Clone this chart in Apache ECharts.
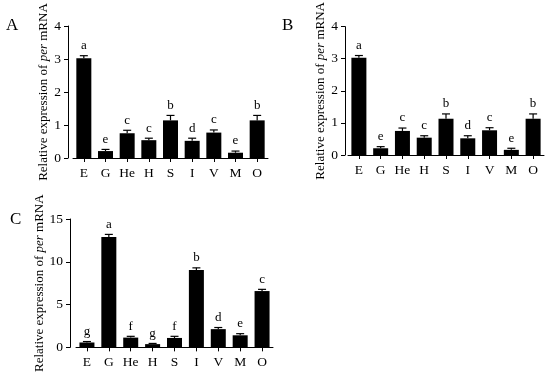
<!DOCTYPE html>
<html>
<head>
<meta charset="utf-8">
<script src="https://cdn.jsdelivr.net/npm/echarts@6/dist/echarts.min.js"></script>
<style>html,body{margin:0;padding:0;background:#fff}#c{width:550px;height:374px}</style>
</head>
<body>
<div id="c"></div>
<script>
const categories = ['E', 'G', 'He', 'H', 'S', 'I', 'V', 'M', 'O'];
const valuesA = [3.02, 0.21, 0.75, 0.54, 1.14, 0.52, 0.77, 0.16, 1.14];
const errorsA = [0.08, 0.05, 0.09, 0.06, 0.15, 0.08, 0.08, 0.05, 0.15];
const lettersA = ['a', 'e', 'c', 'c', 'b', 'd', 'c', 'e', 'b'];
const valuesB = [3.03, 0.21, 0.75, 0.54, 1.13, 0.52, 0.77, 0.16, 1.13];
const errorsB = [0.07, 0.05, 0.09, 0.06, 0.15, 0.08, 0.08, 0.05, 0.15];
const lettersB = ['a', 'e', 'c', 'c', 'b', 'd', 'c', 'e', 'b'];
const valuesC = [0.57, 12.91, 1.14, 0.38, 1.10, 9.03, 2.13, 1.41, 6.58];
const errorsC = [0.11, 0.29, 0.15, 0.08, 0.19, 0.26, 0.19, 0.19, 0.20];
const lettersC = ['g', 'a', 'f', 'g', 'f', 'b', 'd', 'e', 'c'];
const panelLabels = ['A', 'B', 'C'];
const yTicksAB = { min: 0, max: 4, interval: 1 };
const yTicksC = { min: 0, max: 15, interval: 5 };

const FONT = 'Liberation Serif';
const chart = echarts.init(document.getElementById('c'));

function xAx(gi) {
  return {
    type: 'category', gridIndex: gi, data: categories,
    axisLine: { show: true, lineStyle: { color: '#000', width: 1 } },
    axisTick: { show: true, alignWithLabel: true, length: 4, lineStyle: { color: '#000' } },
    axisLabel: { color: '#000', fontFamily: FONT, fontSize: 13.5, margin: 8 },
    splitLine: { show: false }
  };
}
function yAx(gi, t, off) {
  return {
    type: 'value', gridIndex: gi, min: t.min, max: t.max, interval: t.interval, offset: off,
    name: 'Relative expression of {i|per} mRNA',
    nameLocation: 'middle', nameGap: 18,
    nameTextStyle: { color: '#000', fontFamily: FONT, fontSize: 13,
      rich: { i: { fontStyle: 'italic', fontFamily: FONT, fontSize: 13, color: '#000' } } },
    axisLine: { show: true, lineStyle: { color: '#000', width: 1 } },
    axisTick: { show: true, length: 4, lineStyle: { color: '#000' } },
    axisLabel: { color: '#000', fontFamily: FONT, fontSize: 13.5, margin: 7 },
    splitLine: { show: false }
  };
}
function barSeries(gi, vals) {
  return { type: 'bar', xAxisIndex: gi, yAxisIndex: gi, data: vals, barWidth: 15,
    itemStyle: { color: '#000' }, silent: true, animation: false };
}
function errSeries(gi, vals, errs, letters) {
  return {
    type: 'custom', xAxisIndex: gi, yAxisIndex: gi, z: 5, animation: false, silent: true,
    data: vals.map((v, i) => [i, v, errs[i]]),
    renderItem: function (params, api) {
      const i = api.value(0), v = api.value(1), e = api.value(2);
      const p0 = api.coord([i, v]);
      const p1 = api.coord([i, v + e]);
      return {
        type: 'group',
        children: [
          { type: 'line', shape: { x1: p0[0], y1: p0[1], x2: p1[0], y2: p1[1] }, style: { stroke: '#000', lineWidth: 1.2 } },
          { type: 'line', shape: { x1: p1[0] - 4, y1: p1[1], x2: p1[0] + 4, y2: p1[1] }, style: { stroke: '#000', lineWidth: 1.2 } },
          { type: 'text', x: p1[0], y: p1[1] - 10, style: { text: letters[params.dataIndex], fill: '#000',
              font: '13px "' + FONT + '", serif', align: 'center', verticalAlign: 'middle' } }
        ]
      };
    }
  };
}

const titleStyle = { fontFamily: FONT, fontSize: 17, fontWeight: 'normal', color: '#000' };
chart.setOption({
  animation: false,
  title: [
    { text: panelLabels[0], left: 1, top: 12, textStyle: titleStyle },
    { text: panelLabels[1], left: 277, top: 12, textStyle: titleStyle },
    { text: panelLabels[2], left: 5, top: 206, textStyle: titleStyle }
  ],
  grid: [
    { left: 73, top: 26, width: 195, height: 132 },
    { left: 348, top: 25, width: 196, height: 130 },
    { left: 76, top: 219, width: 197, height: 131 }
  ],
  xAxis: [xAx(0), xAx(1), xAx(2)],
  yAxis: [yAx(0, yTicksAB, 5), yAx(1, yTicksAB, 3), yAx(2, yTicksC, 6)],
  series: [
    barSeries(0, valuesA), errSeries(0, valuesA, errorsA, lettersA),
    barSeries(1, valuesB), errSeries(1, valuesB, errorsB, lettersB),
    barSeries(2, valuesC), errSeries(2, valuesC, errorsC, lettersC)
  ]
});
</script>
</body>
</html>
